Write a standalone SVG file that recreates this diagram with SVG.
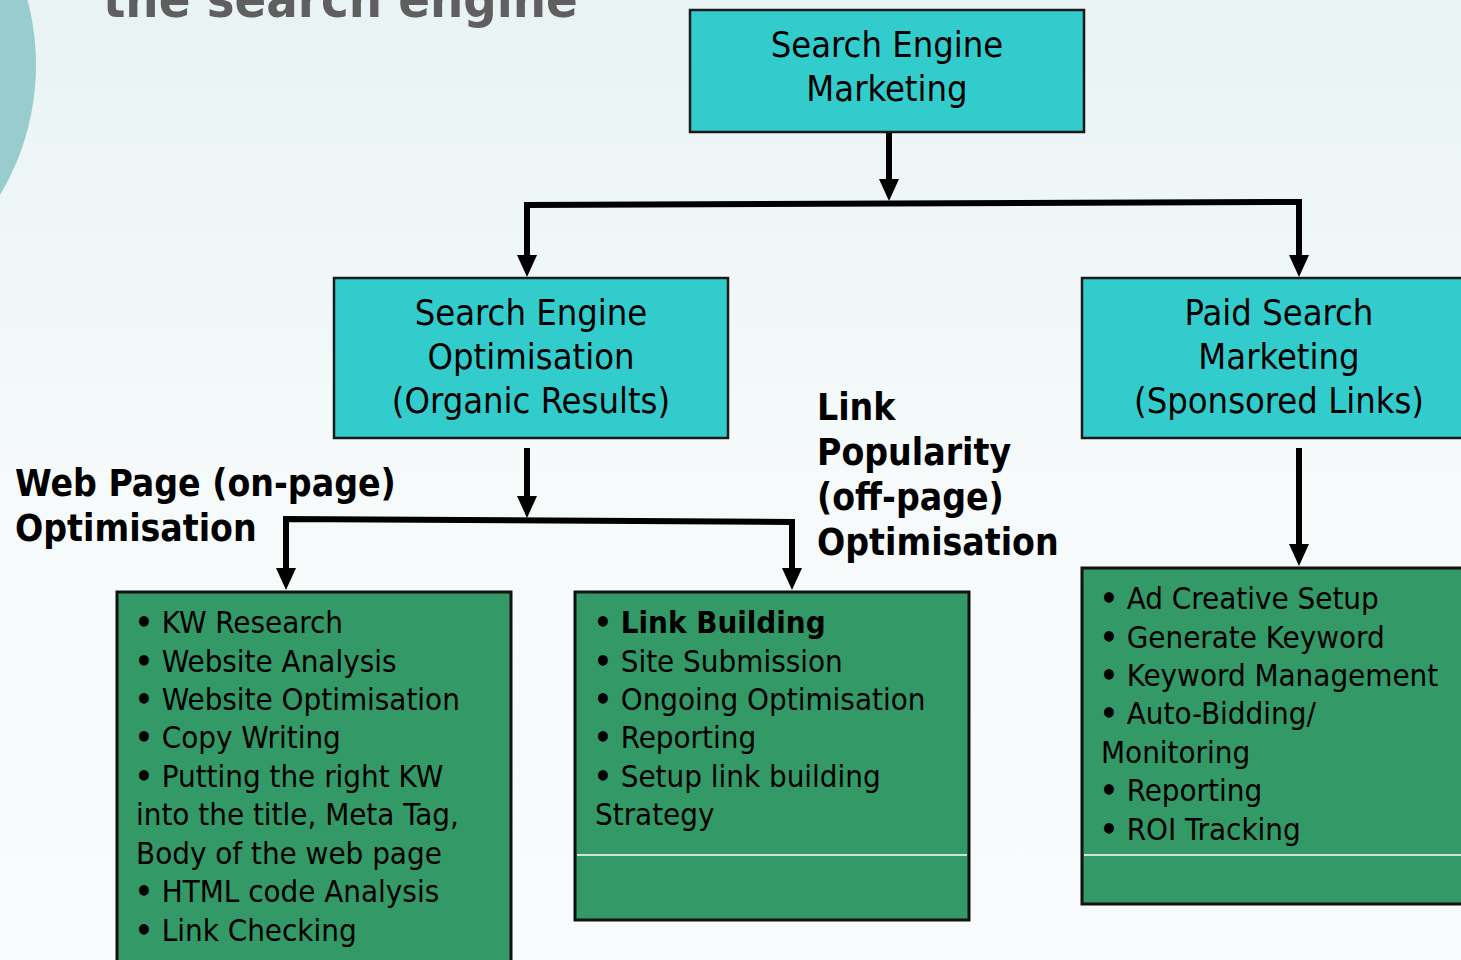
<svg xmlns="http://www.w3.org/2000/svg" width="1461" height="960" viewBox="0 0 1461 960">
<defs>
<linearGradient id="bg" x1="0" y1="0" x2="0" y2="1">
<stop offset="0" stop-color="#E9F3F4"/>
<stop offset="0.5" stop-color="#F6FAFB"/>
<stop offset="1" stop-color="#F9FBFD"/>
</linearGradient>
<marker id="ah" viewBox="0 0 22 20" refX="0" refY="10" markerWidth="22" markerHeight="20" markerUnits="userSpaceOnUse" orient="auto">
<path d="M0,0 L22,10 L0,20 z" fill="#000"/>
</marker>
<style>
.cyan{fill:#33CCCC;stroke:#1a1a1a;stroke-width:2.5}
.green{fill:#339966;stroke:#111;stroke-width:3}
.sep{stroke:#ffffff;stroke-width:1.5}
.t{font-family:"DejaVu Sans Condensed","DejaVu Sans",sans-serif;fill:#000}
.title{font-size:36px;text-anchor:middle}
.item{font-size:31px}
.b{font-weight:bold}
.lbl{font-family:"DejaVu Sans Condensed","DejaVu Sans",sans-serif;font-weight:bold;font-size:37px;fill:#000}
.con{fill:none;stroke:#000;stroke-width:6;stroke-linejoin:miter}
</style>
</defs>
<rect width="1461" height="960" fill="url(#bg)"/>
<circle cx="-217" cy="65" r="253" fill="#99CCCC"/>
<text x="103" y="17" font-family="'DejaVu Sans Condensed','DejaVu Sans',sans-serif" font-weight="bold" font-size="52" fill="#5F5F5F">the search engine</text>

<g id="connectors">
<path class="con" d="M889,133 V179" marker-end="url(#ah)"/>
<path class="con" d="M527,255 V205 L1299,202"/>
<path class="con" d="M1299,199 V255" marker-end="url(#ah)"/>
<path class="con" d="M527,448 V496" marker-end="url(#ah)"/>
<path class="con" d="M286,568 V519 L792,522"/>
<path class="con" d="M792,519 V568" marker-end="url(#ah)"/>
<path class="con" d="M1299,448 V544" marker-end="url(#ah)"/>
<path class="con" d="M527,220 V255" marker-end="url(#ah)"/>
<path class="con" d="M286,530 V568" marker-end="url(#ah)"/>
</g>

<g id="sem">
<rect class="cyan" x="690" y="10" width="394" height="122"/>
<text class="t title" x="887" y="57">Search Engine</text>
<text class="t title" x="887" y="101">Marketing</text>
</g>

<g id="seo">
<rect class="cyan" x="334" y="278" width="394" height="160"/>
<text class="t title" x="531" y="325">Search Engine</text>
<text class="t title" x="531" y="369">Optimisation</text>
<text class="t title" x="531" y="413">(Organic Results)</text>
</g>

<g id="psm">
<rect class="cyan" x="1082" y="278" width="400" height="160"/>
<text class="t title" x="1279" y="325">Paid Search</text>
<text class="t title" x="1279" y="369">Marketing</text>
<text class="t title" x="1279" y="413">(Sponsored Links)</text>
</g>

<g id="label-onpage">
<text class="lbl" x="15" y="496">Web Page (on-page)</text>
<text class="lbl" x="15" y="541">Optimisation</text>
</g>

<g id="label-offpage">
<text class="lbl" x="817" y="420">Link</text>
<text class="lbl" x="817" y="465">Popularity</text>
<text class="lbl" x="817" y="510">(off-page)</text>
<text class="lbl" x="817" y="555">Optimisation</text>
</g>

<g id="onpage-list">
<rect class="green" x="117" y="592" width="394" height="385"/>
<text class="t item" x="135" y="633"><tspan class="b">•</tspan> KW Research</text>
<text class="t item" x="135" y="672"><tspan class="b">•</tspan> Website Analysis</text>
<text class="t item" x="135" y="710"><tspan class="b">•</tspan> Website Optimisation</text>
<text class="t item" x="135" y="748"><tspan class="b">•</tspan> Copy Writing</text>
<text class="t item" x="135" y="787"><tspan class="b">•</tspan> Putting the right KW</text>
<text class="t item" x="136" y="825">into the title, Meta Tag,</text>
<text class="t item" x="136" y="864">Body of the web page</text>
<text class="t item" x="135" y="902"><tspan class="b">•</tspan> HTML code Analysis</text>
<text class="t item" x="135" y="941"><tspan class="b">•</tspan> Link Checking</text>
</g>

<g id="offpage-list">
<rect class="green" x="575" y="592" width="394" height="328"/>
<line class="sep" x1="577" y1="855" x2="967" y2="855"/>
<text class="t item" x="594" y="633"><tspan class="b">•</tspan> <tspan class="b">Link Building</tspan></text>
<text class="t item" x="594" y="672"><tspan class="b">•</tspan> Site Submission</text>
<text class="t item" x="594" y="710"><tspan class="b">•</tspan> Ongoing Optimisation</text>
<text class="t item" x="594" y="748"><tspan class="b">•</tspan> Reporting</text>
<text class="t item" x="594" y="787"><tspan class="b">•</tspan> Setup link building</text>
<text class="t item" x="595" y="825">Strategy</text>
</g>

<g id="paid-list">
<rect class="green" x="1082" y="568" width="400" height="336"/>
<line class="sep" x1="1084" y1="855" x2="1461" y2="855"/>
<text class="t item" x="1100" y="609"><tspan class="b">•</tspan> Ad Creative Setup</text>
<text class="t item" x="1100" y="648"><tspan class="b">•</tspan> Generate Keyword</text>
<text class="t item" x="1100" y="686"><tspan class="b">•</tspan> Keyword Management</text>
<text class="t item" x="1100" y="724"><tspan class="b">•</tspan> Auto-Bidding/</text>
<text class="t item" x="1101" y="763">Monitoring</text>
<text class="t item" x="1100" y="801"><tspan class="b">•</tspan> Reporting</text>
<text class="t item" x="1100" y="840"><tspan class="b">•</tspan> ROI Tracking</text>
</g>
</svg>
